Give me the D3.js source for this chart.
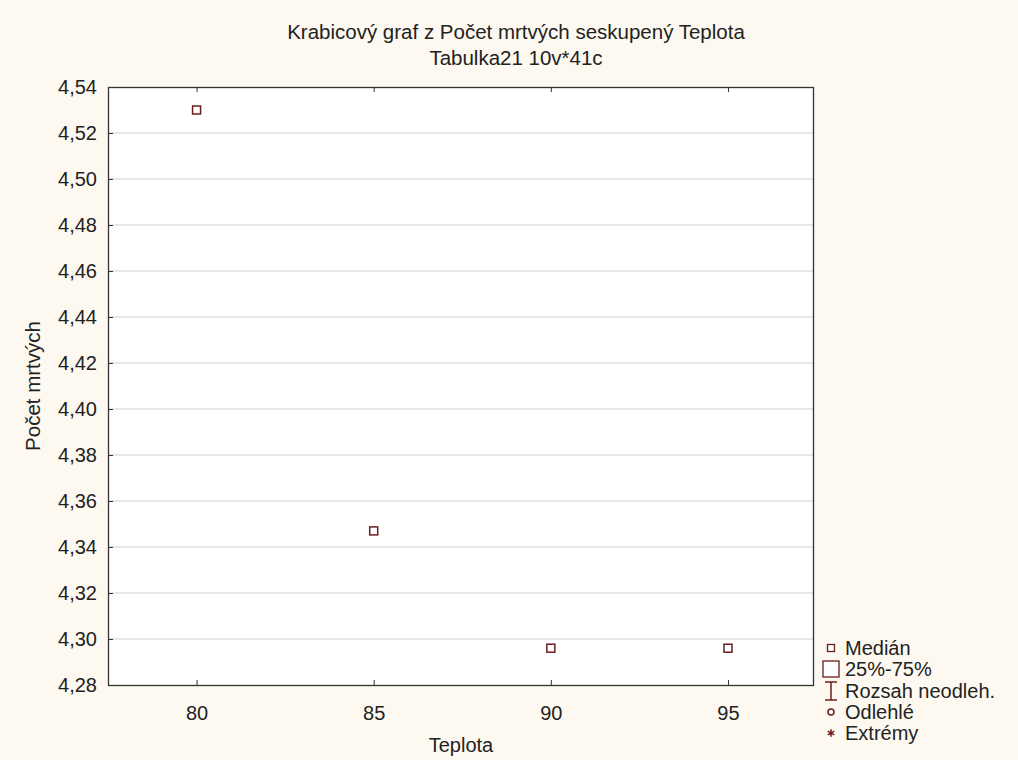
<!DOCTYPE html>
<html>
<head>
<meta charset="utf-8">
<script src="https://cdn.jsdelivr.net/npm/d3@7"></script>
<style>
  html, body { margin: 0; padding: 0; background: #fdf9f0; }
  svg { display: block; }
  text { font-family: "Liberation Sans", Arial, sans-serif; fill: #222; }
</style>
</head>
<body>
<svg id="chart" width="1018" height="760"></svg>
<script>
// Group temperatures and the median of "Počet mrtvých" for each group
const teplota = [80, 85, 90, 95];
const median = [4.530, 4.347, 4.296, 4.296];
const yTicks = [4.28, 4.30, 4.32, 4.34, 4.36, 4.38, 4.40, 4.42, 4.44, 4.46, 4.48, 4.50, 4.52, 4.54];
const xTicks = [80, 85, 90, 95];
const legendLabels = ["Medián", "25%-75%", "Rozsah neodleh.", "Odlehlé", "Extrémy"];

const titleText = "Krabicový graf z Počet mrtvých seskupený Teplota";
const subtitleText = "Tabulka21 10v*41c";
const xTitle = "Teplota";
const yTitle = "Počet mrtvých";

const svg = d3.select("#chart");
const W = 1018, H = 760;
const plot = { left: 108, right: 813, top: 87, bottom: 685 };
const markColor = "#6b1d1d";
const fs = "20px";

const x = d3.scaleLinear().domain([77.5, 97.4]).range([plot.left, plot.right]);
const y = d3.scaleLinear().domain([4.28, 4.54]).range([plot.bottom, plot.top]);
const fmt = v => d3.format(".2f")(v).replace(".", ",");

svg.append("rect").attr("width", W).attr("height", H).attr("fill", "#fdf9f0");
svg.append("rect")
  .attr("x", plot.left).attr("y", plot.top)
  .attr("width", plot.right - plot.left).attr("height", plot.bottom - plot.top)
  .attr("fill", "#ffffff");

// horizontal grid
svg.append("g")
  .selectAll("line")
  .data(yTicks.slice(1, -1))
  .join("line")
  .attr("x1", plot.left).attr("x2", plot.right)
  .attr("y1", d => y(d)).attr("y2", d => y(d))
  .attr("stroke", "#cfcfcf").attr("stroke-width", 1);

// y axis (labels outside, ticks inside)
const yAxis = svg.append("g")
  .attr("transform", `translate(${plot.left},0)`)
  .call(d3.axisLeft(y).tickValues(yTicks).tickFormat(fmt).tickSizeInner(-5).tickSizeOuter(0).tickPadding(11));
yAxis.select(".domain").remove();
yAxis.selectAll("line").attr("stroke", "#333");
yAxis.selectAll("text").style("font-size", fs).attr("fill", "#222");

// x axis bottom
const xAxis = svg.append("g")
  .attr("transform", `translate(0,${plot.bottom})`)
  .call(d3.axisBottom(x).tickValues(xTicks).tickFormat(d3.format("d")).tickSizeInner(-5).tickSizeOuter(0).tickPadding(21));
xAxis.select(".domain").remove();
xAxis.selectAll("line").attr("stroke", "#333");
xAxis.selectAll("text").style("font-size", fs).attr("fill", "#222");

// x axis top (ticks only)
const xTop = svg.append("g")
  .attr("transform", `translate(0,${plot.top})`)
  .call(d3.axisTop(x).tickValues(xTicks).tickFormat("").tickSizeInner(-5).tickSizeOuter(0));
xTop.select(".domain").remove();
xTop.selectAll("line").attr("stroke", "#333");

// frame
svg.append("rect")
  .attr("x", plot.left + 0.5).attr("y", plot.top + 0.5)
  .attr("width", plot.right - plot.left).attr("height", plot.bottom - plot.top)
  .attr("fill", "none").attr("stroke", "#333").attr("stroke-width", 1.3);

// medians
const ms = 8;
svg.append("g")
  .selectAll("rect")
  .data(teplota.map((t, i) => ({ t, m: median[i] })))
  .join("rect")
  .attr("x", d => x(d.t) - ms / 2).attr("y", d => y(d.m) - ms / 2)
  .attr("width", ms).attr("height", ms)
  .attr("fill", "#fff").attr("stroke", markColor).attr("stroke-width", 1.5);

// titles
svg.append("text").attr("x", 516).attr("y", 39).attr("text-anchor", "middle")
  .style("font-size", "20.5px").text(titleText);
svg.append("text").attr("x", 516).attr("y", 65).attr("text-anchor", "middle")
  .style("font-size", "20.5px").text(subtitleText);
svg.append("text").attr("x", 461).attr("y", 752).attr("text-anchor", "middle")
  .style("font-size", fs).text(xTitle);
svg.append("text")
  .attr("transform", `translate(40,${(plot.top + plot.bottom) / 2}) rotate(-90)`)
  .attr("text-anchor", "middle").style("font-size", "20.5px").text(yTitle);

// legend
const lg = svg.append("g").attr("transform", "translate(831,0)");
const rowY = [648, 669, 691, 712, 733];
legendLabels.forEach((lab, i) => {
  const cy = rowY[i];
  const g = lg.append("g");
  if (i === 0) {
    g.append("rect").attr("x", -3.5).attr("y", cy - 3.5).attr("width", 7).attr("height", 7)
      .attr("fill", "#fff").attr("stroke", markColor).attr("stroke-width", 1.3);
  } else if (i === 1) {
    g.append("rect").attr("x", -8).attr("y", cy - 8).attr("width", 16).attr("height", 16)
      .attr("fill", "#fff").attr("stroke", markColor).attr("stroke-width", 1.3);
  } else if (i === 2) {
    g.append("line").attr("x1", 0).attr("x2", 0).attr("y1", cy - 9).attr("y2", cy + 9).attr("stroke", markColor).attr("stroke-width", 1.5);
    g.append("line").attr("x1", -6).attr("x2", 6).attr("y1", cy - 9).attr("y2", cy - 9).attr("stroke", markColor).attr("stroke-width", 1.5);
    g.append("line").attr("x1", -6).attr("x2", 6).attr("y1", cy + 9).attr("y2", cy + 9).attr("stroke", markColor).attr("stroke-width", 1.5);
  } else if (i === 3) {
    g.append("circle").attr("cx", 0).attr("cy", cy).attr("r", 3)
      .attr("fill", "#fff").attr("stroke", markColor).attr("stroke-width", 1.5);
  } else {
    g.append("path").attr("transform", `translate(0,${cy})`)
      .attr("d", d3.symbol(d3.symbolAsterisk, 40)())
      .attr("fill", "none").attr("stroke", markColor).attr("stroke-width", 1.5);
  }
  lg.append("text").attr("x", 14).attr("y", cy + 7).style("font-size", fs).text(lab);
});
</script>
</body>
</html>
